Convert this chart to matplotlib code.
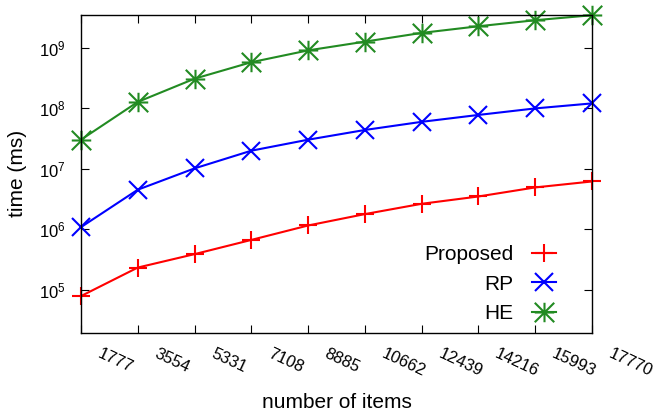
import matplotlib
matplotlib.use("Agg")
import matplotlib.pyplot as plt
import matplotlib.transforms as mtransforms
from matplotlib.path import Path
from matplotlib.ticker import LogLocator, NullLocator

plt.rcParams['font.family'] = ['Liberation Sans', 'DejaVu Sans']
plt.rcParams['mathtext.fontset'] = 'custom'
plt.rcParams['mathtext.rm'] = 'Liberation Sans'
plt.rcParams['mathtext.it'] = 'Liberation Sans:italic'

items = [1777, 3554, 5331, 7108, 8885, 10662, 12439, 14216, 15993, 17770]
tick_labels = ['1777', '3554', '5331', '7108', '8885', '10662', '12439', '14216', '15993', '17770']
proposed = [7.9e4, 2.34e5, 3.9e5, 6.7e5, 1.16e6, 1.79e6, 2.65e6, 3.5e6, 4.94e6, 6.2e6]
rp = [1.09e6, 4.53e6, 1.02e7, 2.0e7, 3.04e7, 4.4e7, 6.0e7, 7.8e7, 1.0e8, 1.21e8]
he = [3.04e7, 1.28e8, 3.1e8, 5.8e8, 9.1e8, 1.27e9, 1.77e9, 2.28e9, 2.87e9, 3.47e9]

# gnuplot-style asterisk (plus + cross reaching the corners)
star = Path([(-1, 0), (1, 0), (0, -1), (0, 1), (-1, -1), (1, 1), (-1, 1), (1, -1)],
            [Path.MOVETO, Path.LINETO] * 4)

fig = plt.figure(figsize=(6.56, 4.16), dpi=100)
ax = fig.add_axes([81/656, 1-332.7/416, (592-81)/656, (332.7-15)/416])

common = dict(lw=1.5, mew=1.5, clip_on=False)
ax.plot(items, proposed, color='#ff0000', marker='+', ms=13, label='Proposed', **common)
ax.plot(items, rp, color='#0000ff', marker='x', ms=13, label='RP', **common)
ax.plot(items, he, color='#228b22', marker=star, ms=14, label='HE', **common)

ax.set_yscale('log')
ax.set_xlim(1777, 17770)
ax.set_ylim(1.96e4, 3.5e9)
ax.yaxis.set_major_locator(LogLocator(base=10, numticks=20))
ax.yaxis.set_minor_locator(NullLocator())
ax.set_xticks(items)
ax.set_xticklabels(tick_labels, rotation=-25, ha='left', va='center',
                   rotation_mode='anchor', fontsize=12)

ax.tick_params(axis='both', which='major', direction='in', length=5.5, width=0.8,
               top=True, right=True, colors='black', labelsize=12)
ax.tick_params(axis='x', pad=14.5)
ax.tick_params(axis='y', pad=11)
for s in ax.spines.values():
    s.set_linewidth(1.0)
    s.set_color('black')

offset = mtransforms.ScaledTranslation(17.5/100, 0, fig.dpi_scale_trans)
for lbl in ax.get_xticklabels():
    lbl.set_transform(lbl.get_transform() + offset)

ax.set_xlabel('number of items', fontsize=15, va='center')
ax.xaxis.set_label_coords(0.5, -0.221)
ax.set_ylabel('time (ms)', fontsize=15, va='center')
ax.yaxis.set_label_coords(-0.125, 0.5)

leg = ax.legend(loc='lower right', bbox_to_anchor=(0.9295, 0.03), frameon=False,
                markerfirst=False, fontsize=15, handlelength=1.15,
                labelspacing=0.5, handletextpad=0.9, borderaxespad=0,
                borderpad=0)

fig.savefig('out.png', dpi=100)
